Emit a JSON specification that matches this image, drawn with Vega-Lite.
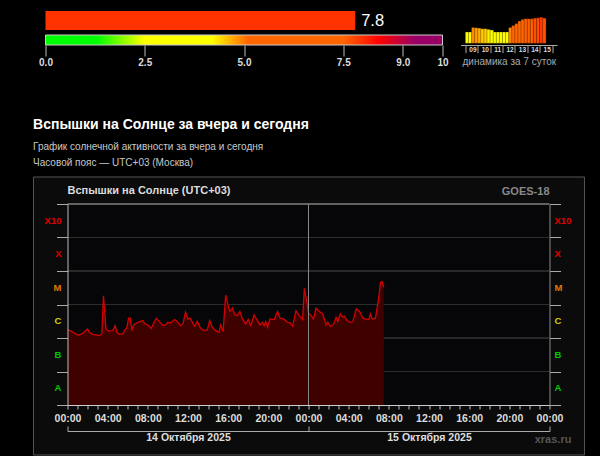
{
"$schema": "https://vega.github.io/schema/vega-lite/v6.json",
"background": "#000000",
"padding": {"left": 25.5, "top": 11, "right": 0, "bottom": 0},
"config": {"view": {"stroke": null}, "font": "Liberation Sans", "axis": {"zindex": 1, "labelFlush": false, "labelOverlap": false, "grid": false}},
"datasets": {
"flux": [
{"time":"2025-10-14T00:00Z","logflux":-5.76},{"time":"2025-10-14T00:20Z","logflux":-5.79},{"time":"2025-10-14T00:40Z","logflux":-5.85},{"time":"2025-10-14T01:00Z","logflux":-5.91},{"time":"2025-10-14T01:20Z","logflux":-5.89},{"time":"2025-10-14T01:40Z","logflux":-5.83},{"time":"2025-10-14T02:00Z","logflux":-5.73},{"time":"2025-10-14T02:10Z","logflux":-5.83},{"time":"2025-10-14T02:30Z","logflux":-5.89},{"time":"2025-10-14T02:50Z","logflux":-5.91},{"time":"2025-10-14T03:10Z","logflux":-5.93},{"time":"2025-10-14T03:25Z","logflux":-5.88},{"time":"2025-10-14T03:35Z","logflux":-4.74},{"time":"2025-10-14T03:50Z","logflux":-5.73},{"time":"2025-10-14T04:05Z","logflux":-5.79},{"time":"2025-10-14T04:30Z","logflux":-5.78},{"time":"2025-10-14T04:45Z","logflux":-5.63},{"time":"2025-10-14T04:55Z","logflux":-5.83},{"time":"2025-10-14T05:10Z","logflux":-5.89},{"time":"2025-10-14T05:30Z","logflux":-5.88},{"time":"2025-10-14T05:40Z","logflux":-5.78},{"time":"2025-10-14T05:55Z","logflux":-5.69},{"time":"2025-10-14T06:05Z","logflux":-5.41},{"time":"2025-10-14T06:15Z","logflux":-5.41},{"time":"2025-10-14T06:25Z","logflux":-5.78},{"time":"2025-10-14T06:35Z","logflux":-5.61},{"time":"2025-10-14T07:00Z","logflux":-5.53},{"time":"2025-10-14T07:30Z","logflux":-5.48},{"time":"2025-10-14T07:40Z","logflux":-5.56},{"time":"2025-10-14T08:00Z","logflux":-5.61},{"time":"2025-10-14T08:20Z","logflux":-5.71},{"time":"2025-10-14T08:50Z","logflux":-5.41},{"time":"2025-10-14T09:10Z","logflux":-5.51},{"time":"2025-10-14T09:30Z","logflux":-5.63},{"time":"2025-10-14T09:45Z","logflux":-5.61},{"time":"2025-10-14T10:00Z","logflux":-5.53},{"time":"2025-10-14T10:15Z","logflux":-5.55},{"time":"2025-10-14T10:40Z","logflux":-5.45},{"time":"2025-10-14T10:55Z","logflux":-5.51},{"time":"2025-10-14T11:15Z","logflux":-5.63},{"time":"2025-10-14T11:30Z","logflux":-5.58},{"time":"2025-10-14T11:45Z","logflux":-5.23},{"time":"2025-10-14T12:00Z","logflux":-5.43},{"time":"2025-10-14T12:15Z","logflux":-5.41},{"time":"2025-10-14T12:30Z","logflux":-5.58},{"time":"2025-10-14T12:40Z","logflux":-5.65},{"time":"2025-10-14T12:55Z","logflux":-5.50},{"time":"2025-10-14T13:15Z","logflux":-5.71},{"time":"2025-10-14T13:35Z","logflux":-5.78},{"time":"2025-10-14T13:55Z","logflux":-5.76},{"time":"2025-10-14T14:10Z","logflux":-5.48},{"time":"2025-10-14T14:25Z","logflux":-5.68},{"time":"2025-10-14T14:45Z","logflux":-5.78},{"time":"2025-10-14T15:05Z","logflux":-5.83},{"time":"2025-10-14T15:15Z","logflux":-5.61},{"time":"2025-10-14T15:30Z","logflux":-5.81},{"time":"2025-10-14T15:45Z","logflux":-4.72},{"time":"2025-10-14T16:00Z","logflux":-5.04},{"time":"2025-10-14T16:10Z","logflux":-5.21},{"time":"2025-10-14T16:25Z","logflux":-5.11},{"time":"2025-10-14T16:40Z","logflux":-5.31},{"time":"2025-10-14T16:55Z","logflux":-5.33},{"time":"2025-10-14T17:10Z","logflux":-5.21},{"time":"2025-10-14T17:25Z","logflux":-5.43},{"time":"2025-10-14T17:45Z","logflux":-5.58},{"time":"2025-10-14T18:00Z","logflux":-5.45},{"time":"2025-10-14T18:15Z","logflux":-5.63},{"time":"2025-10-14T18:35Z","logflux":-5.31},{"time":"2025-10-14T18:55Z","logflux":-5.48},{"time":"2025-10-14T19:10Z","logflux":-5.61},{"time":"2025-10-14T19:25Z","logflux":-5.53},{"time":"2025-10-14T19:35Z","logflux":-5.63},{"time":"2025-10-14T19:45Z","logflux":-5.51},{"time":"2025-10-14T19:55Z","logflux":-5.68},{"time":"2025-10-14T20:10Z","logflux":-5.43},{"time":"2025-10-14T20:35Z","logflux":-5.45},{"time":"2025-10-14T20:55Z","logflux":-5.21},{"time":"2025-10-14T21:10Z","logflux":-5.41},{"time":"2025-10-14T21:30Z","logflux":-5.43},{"time":"2025-10-14T21:55Z","logflux":-5.53},{"time":"2025-10-14T22:10Z","logflux":-5.55},{"time":"2025-10-14T22:25Z","logflux":-5.65},{"time":"2025-10-14T22:45Z","logflux":-5.19},{"time":"2025-10-14T23:05Z","logflux":-5.33},{"time":"2025-10-14T23:25Z","logflux":-5.45},{"time":"2025-10-14T23:35Z","logflux":-4.52},{"time":"2025-10-14T23:50Z","logflux":-4.93},{"time":"2025-10-15T00:00Z","logflux":-5.25},{"time":"2025-10-15T00:15Z","logflux":-5.33},{"time":"2025-10-15T00:30Z","logflux":-5.43},{"time":"2025-10-15T00:45Z","logflux":-5.11},{"time":"2025-10-15T01:05Z","logflux":-5.21},{"time":"2025-10-15T01:25Z","logflux":-5.28},{"time":"2025-10-15T01:45Z","logflux":-5.61},{"time":"2025-10-15T01:55Z","logflux":-5.53},{"time":"2025-10-15T02:10Z","logflux":-5.65},{"time":"2025-10-15T02:30Z","logflux":-5.58},{"time":"2025-10-15T02:45Z","logflux":-5.38},{"time":"2025-10-15T02:55Z","logflux":-5.51},{"time":"2025-10-15T03:10Z","logflux":-5.28},{"time":"2025-10-15T03:25Z","logflux":-5.38},{"time":"2025-10-15T03:35Z","logflux":-5.35},{"time":"2025-10-15T03:50Z","logflux":-5.48},{"time":"2025-10-15T04:10Z","logflux":-5.53},{"time":"2025-10-15T04:25Z","logflux":-5.51},{"time":"2025-10-15T04:45Z","logflux":-5.13},{"time":"2025-10-15T05:05Z","logflux":-5.21},{"time":"2025-10-15T05:25Z","logflux":-5.41},{"time":"2025-10-15T05:40Z","logflux":-5.43},{"time":"2025-10-15T06:00Z","logflux":-5.45},{"time":"2025-10-15T06:10Z","logflux":-5.28},{"time":"2025-10-15T06:20Z","logflux":-5.43},{"time":"2025-10-15T06:40Z","logflux":-5.41},{"time":"2025-10-15T06:50Z","logflux":-5.11},{"time":"2025-10-15T07:00Z","logflux":-4.79},{"time":"2025-10-15T07:10Z","logflux":-4.34},{"time":"2025-10-15T07:20Z","logflux":-4.32},{"time":"2025-10-15T07:30Z","logflux":-4.49}
],
"bounds": [{"logflux":-7},{"logflux":-6},{"logflux":-5},{"logflux":-4},{"logflux":-3},{"logflux":-2}],
"classes": [{"class":"A","mid":-7.5},{"class":"B","mid":-6.5},{"class":"C","mid":-5.5},{"class":"M","mid":-4.5},{"class":"X","mid":-3.5},{"class":"X10","mid":-2.5}],
"week": [
{"time":"2025-10-09T03:00Z","index":3.5},{"time":"2025-10-09T09:00Z","index":3.5},{"time":"2025-10-09T15:00Z","index":4.9},{"time":"2025-10-09T21:00Z","index":4.8},
{"time":"2025-10-10T03:00Z","index":4.7},{"time":"2025-10-10T09:00Z","index":4.5},{"time":"2025-10-10T15:00Z","index":4.5},{"time":"2025-10-10T21:00Z","index":4.3},
{"time":"2025-10-11T03:00Z","index":4.1},{"time":"2025-10-11T09:00Z","index":3.5},{"time":"2025-10-11T15:00Z","index":3.5},{"time":"2025-10-11T21:00Z","index":3.5},
{"time":"2025-10-12T03:00Z","index":3.5},{"time":"2025-10-12T09:00Z","index":3.5},{"time":"2025-10-12T15:00Z","index":4.9},{"time":"2025-10-12T21:00Z","index":5.5},
{"time":"2025-10-13T03:00Z","index":6.1},{"time":"2025-10-13T09:00Z","index":6.9},{"time":"2025-10-13T15:00Z","index":7.4},{"time":"2025-10-13T21:00Z","index":7.6},
{"time":"2025-10-14T03:00Z","index":7.6},{"time":"2025-10-14T09:00Z","index":7.6},{"time":"2025-10-14T15:00Z","index":7.8},{"time":"2025-10-14T21:00Z","index":7.9},
{"time":"2025-10-15T03:00Z","index":8.1},{"time":"2025-10-15T09:00Z","index":7.8}
]
},
"concat": [
{
"hconcat": [
{"hconcat": [
{"width": 9.5, "height": 10, "data": {"values": [{}]}, "mark": {"type": "point", "opacity": 0}, "encoding": {}},
{"vconcat": [
{"width": 397, "height": 19, "data": {"values": [{"index": 7.8}]},
"encoding": {"x": {"field": "index", "type": "quantitative", "scale": {"domain": [0, 10]}, "axis": null}},
"layer": [
{"mark": {"type": "rect", "color": "#ff3300"}, "encoding": {"x2": {"datum": 0}}},
{"mark": {"type": "text", "align": "left", "baseline": "middle", "dx": 6, "font": "Liberation Sans", "fontSize": 16.5, "color": "#ffffff"}, "encoding": {"text": {"field": "index", "type": "quantitative", "format": ".1f"}}}
]},
{"width": 397, "height": 10, "data": {"values": [{}]},
"mark": {"type": "rect", "stroke": "#cccccc", "strokeWidth": 1, "fill": {"gradient": "linear", "x1": 0, "y1": 0, "x2": 1, "y2": 0, "stops": [{"offset": 0, "color": "#00ff00"}, {"offset": 0.13, "color": "#00ff00"}, {"offset": 0.25, "color": "#ffff00"}, {"offset": 0.42, "color": "#ffff00"}, {"offset": 0.51, "color": "#ff6600"}, {"offset": 0.75, "color": "#ff6600"}, {"offset": 0.84, "color": "#ff0000"}, {"offset": 0.93, "color": "#990066"}, {"offset": 1, "color": "#990066"}]}},
"encoding": {
"x": {"datum": 0, "type": "quantitative", "scale": {"domain": [0, 10]}, "axis": {"orient": "bottom", "values": [0, 2.5, 5, 7.5, 9, 10], "labelExpr": "datum.value == 10 ? '10' : format(datum.value, '.1f')", "domain": false, "tickSize": 11, "tickColor": "#bbbbbb", "labelColor": "#dddddd", "labelFontWeight": "bold", "labelFontSize": 10, "labelPadding": 1, "title": null}},
"x2": {"datum": 10}
}}
], "spacing": 4}
], "spacing": 0},
{"width": 96.6, "height": 32.3, "data": {"name": "week"},
"mark": {"type": "bar", "size": 3.4, "stroke": "#000000", "strokeWidth": 0.5, "strokeOpacity": 0.5},
"encoding": {
"x": {"field": "time", "type": "temporal", "scale": {"type": "utc", "domain": [1759968000000, 1760572800000]},
"axis": {"orient": "bottom", "offset": 1.7, "values": [1759968000000, 1760054400000, 1760140800000, 1760227200000, 1760313600000, 1760400000000, 1760486400000, 1760572800000], "labelExpr": "utcdate(datum.value) < 16 ? utcFormat(datum.value, '%d') : ''", "labelOffset": 6.9, "labelPadding": -6, "tickSize": 7.7, "tickColor": "#aaaaaa", "domainColor": "#aaaaaa", "labelColor": "#dddddd", "labelFontSize": 6.5, "labelFontWeight": "bold", "title": "динамика за 7 суток", "titleFontSize": 10, "titleFontWeight": "normal", "titleColor": "#aaaaaa", "titlePadding": 3}},
"y": {"field": "index", "type": "quantitative", "scale": {"domain": [0, 10]}, "axis": null},
"color": {"field": "index", "type": "quantitative", "scale": {"domain": [0, 1.3, 2.5, 4.2, 5.1, 7.5, 8.4, 9.3, 10], "range": ["#00ff00", "#00ff00", "#ffff00", "#ffff00", "#ff6600", "#ff6600", "#ff0000", "#990066", "#990066"]}, "legend": null}
}}
], "spacing": 12
},
{
"hconcat": [
{"width": 1, "height": 10, "data": {"values": [{}]}, "mark": {"type": "point", "opacity": 0}, "encoding": {}},
{
"width": 482, "height": 201,
"title": {"text": "Вспышки на Солнце за вчера и сегодня", "subtitle": ["График солнечной активности за вчера и сегодня", "Часовой пояс — UTC+03 (Москва)"], "anchor": "start", "frame": "bounds", "font": "Liberation Sans", "fontSize": 14, "fontWeight": "bold", "color": "#ffffff", "subtitleFont": "Liberation Sans", "subtitleFontSize": 10, "subtitleColor": "#c8c8c8", "subtitleLineHeight": 16, "subtitlePadding": 10, "offset": 8.5},
"resolve": {"axis": {"x": "independent", "y": "independent"}},
"layer": [
{"data": {"values": [{}]}, "mark": {"type": "rect", "fill": "#0b0b0b", "stroke": "#555555", "strokeWidth": 1},
"encoding": {
"x": {"datum": 1760387820000, "type": "temporal", "scale": {"type": "utc", "domain": [1760400000000, 1760572800000]}, "axis": null},
"x2": {"datum": 1760585340000},
"y": {"datum": -1.194, "type": "quantitative", "scale": {"domain": [-8, -2], "nice": false, "zero": false}, "axis": null},
"y2": {"datum": -9.493}}},
{"data": {"values": [{}]}, "mark": {"type": "rect", "fill": "#060609"},
"encoding": {
"x": {"datum": 1760400000000, "type": "temporal", "axis": null},
"x2": {"datum": 1760572800000},
"y": {"datum": -8, "type": "quantitative", "axis": null},
"y2": {"datum": -2}}},
{"data": {"name": "bounds"}, "mark": {"type": "rule", "strokeWidth": 1},
"encoding": {
"y": {"field": "logflux", "type": "quantitative", "axis": null},
"color": {"condition": [{"test": "datum.logflux == -2", "value": "#bbbbbb"}, {"test": "datum.logflux % 2 == 0", "value": "#4a4a4a"}], "value": "#2c2c2c"}}},
{"data": {"name": "flux"}, "mark": {"type": "area", "color": "#3f0000"},
"encoding": {
"x": {"field": "time", "type": "temporal", "axis": {"orient": "bottom", "zindex": 1, "values": [1760400000000,1760403600000,1760407200000,1760410800000,1760414400000,1760418000000,1760421600000,1760425200000,1760428800000,1760432400000,1760436000000,1760439600000,1760443200000,1760446800000,1760450400000,1760454000000,1760457600000,1760461200000,1760464800000,1760468400000,1760472000000,1760475600000,1760479200000,1760482800000,1760486400000,1760490000000,1760493600000,1760497200000,1760500800000,1760504400000,1760508000000,1760511600000,1760515200000,1760518800000,1760522400000,1760526000000,1760529600000,1760533200000,1760536800000,1760540400000,1760544000000,1760547600000,1760551200000,1760554800000,1760558400000,1760562000000,1760565600000,1760569200000,1760572800000], "labelExpr": "utchours(datum.value) % 4 == 0 ? utcFormat(datum.value, '%H:%M') : ''", "domainColor": "#cccccc", "tickColor": "#bbbbbb", "tickSize": 4, "labelPadding": 4, "labelColor": "#dddddd", "labelFontWeight": "bold", "labelFontSize": 10.5, "title": null}},
"y": {"field": "logflux", "type": "quantitative", "axis": {"orient": "left", "zindex": 1, "values": [-8, -7, -6, -5, -4, -3, -2], "labels": false, "tickSize": 11, "tickColor": "#aaaaaa", "domainColor": "#bbbbbb", "title": null}},
"y2": {"datum": -8}}},
{"data": {"name": "flux"}, "mark": {"type": "line", "color": "#d40000", "strokeWidth": 1.3},
"encoding": {
"x": {"field": "time", "type": "temporal", "axis": {"orient": "bottom", "zindex": 1, "offset": 26, "values": [1760400000000, 1760486400000, 1760572800000], "labelExpr": "utcdate(datum.value) == 14 ? '14 Октября 2025' : utcdate(datum.value) == 15 ? '15 Октября 2025' : ''", "labelOffset": 120.5, "tickSize": -5, "labelPadding": 6.5, "domainColor": "#aaaaaa", "tickColor": "#aaaaaa", "labelColor": "#dddddd", "labelFontWeight": "bold", "labelFontSize": 10.5, "title": null}},
"y": {"field": "logflux", "type": "quantitative", "axis": {"orient": "right", "zindex": 1, "values": [-8, -7, -6, -5, -4, -3, -2], "labels": false, "tickSize": 11, "tickColor": "#aaaaaa", "domainColor": "#888888", "title": null}}}},
{"data": {"values": [{}]}, "mark": {"type": "rule", "color": "#888888", "strokeWidth": 1},
"encoding": {"x": {"datum": 1760486400000, "type": "temporal", "axis": null}}},
{"data": {"name": "classes"}, "mark": {"type": "text", "align": "right", "baseline": "middle", "fontWeight": "bold", "fontSize": 9.5},
"encoding": {"x": {"datum": 1760397840000, "type": "temporal", "axis": null}, "y": {"field": "mid", "type": "quantitative", "axis": null}, "text": {"field": "class", "type": "nominal"},
"color": {"field": "class", "type": "nominal", "scale": {"domain": ["A", "B", "C", "M", "X", "X10"], "range": ["#00c800", "#00c800", "#d0d000", "#e07800", "#e00000", "#e00000"]}, "legend": null}}},
{"data": {"name": "classes"}, "mark": {"type": "text", "align": "left", "baseline": "middle", "fontWeight": "bold", "fontSize": 9.5},
"encoding": {"x": {"datum": 1760574600000, "type": "temporal", "axis": null}, "y": {"field": "mid", "type": "quantitative", "axis": null}, "text": {"field": "class", "type": "nominal"},
"color": {"field": "class", "type": "nominal", "legend": null}}},
{"data": {"values": [{}]}, "mark": {"type": "text", "align": "left", "baseline": "middle", "fontWeight": "bold", "fontSize": 11, "color": "#dddddd", "text": "Вспышки на Солнце (UTC+03)"},
"encoding": {"x": {"datum": 1760400000000, "type": "temporal", "axis": null}, "y": {"datum": -1.612, "type": "quantitative", "axis": null}}},
{"data": {"values": [{}]}, "mark": {"type": "text", "align": "right", "baseline": "middle", "fontWeight": "bold", "fontSize": 11, "color": "#888888", "text": "GOES-18"},
"encoding": {"x": {"datum": 1760572800000, "type": "temporal", "axis": null}, "y": {"datum": -1.65, "type": "quantitative", "axis": null}}},
{"data": {"values": [{}]}, "mark": {"type": "text", "align": "right", "baseline": "middle", "fontWeight": "bold", "fontSize": 11, "color": "#555555", "text": "xras.ru"},
"encoding": {"x": {"datum": 1760580660000, "type": "temporal", "axis": null}, "y": {"datum": -9.036, "type": "quantitative", "axis": null}}}
]
}
], "spacing": 0
}
],
"columns": 1,
"align": "none",
"spacing": 50
}
